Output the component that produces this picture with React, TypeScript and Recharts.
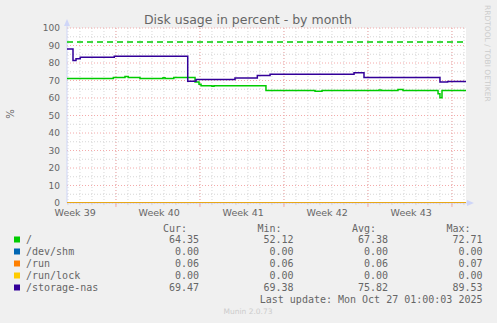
import React from "react";
import {
  ComposedChart,
  Line,
  XAxis,
  YAxis,
  ReferenceLine,
  ReferenceArea,
  ReferenceDot,
} from "recharts";

// x values are days counted from the left edge of the plot
const weekLabels = ["Week 39", "Week 40", "Week 41", "Week 42", "Week 43"];
const weekLabelDays = [0.68, 7.68, 14.68, 21.68, 28.68];
const weekStartDays = [4.08, 11.08, 18.08, 25.08, 32.08];
const yTicks = [0, 10, 20, 30, 40, 50, 60, 70, 80, 90, 100];
const yMinorTicks = [5, 15, 25, 35, 45, 55, 65, 75, 85, 95];
const warningLevel = 92;
const xEnd = 33.25;

// "/"
const rootDays = [0, 3.86, 4.83, 5.1, 6.08, 8.0, 8.17, 8.9, 10.67, 11.0, 11.17, 12.08, 12.25, 16.58, 20.67, 21.25, 26.0, 26.17, 27.58, 28.0, 30.92, 31.08, 31.25, 33.25];
const rootValues = [71.2, 71.7, 72.3, 71.7, 71.2, 71.6, 71.2, 71.7, 69.2, 67.8, 67.0, 66.7, 67.0, 64.3, 63.8, 64.3, 64.6, 64.3, 64.9, 64.3, 62.5, 60.1, 64.3, 64.3];

// "/storage-nas"
const nasDays = [0, 0.5, 0.75, 1.1, 3.94, 10.06, 10.75, 14.0, 15.86, 16.92, 23.92, 24.75, 31.08, 31.72, 33.25];
const nasValues = [88.0, 81.5, 82.4, 83.3, 83.9, 69.6, 70.6, 71.4, 72.9, 73.6, 74.4, 71.7, 69.1, 69.5, 69.5];

const flatDays = [0, 33.25];
const shmValues = [0, 0];
const runValues = [0.06, 0.06];
const lockValues = [0, 0];

const legendNames = ["/", "/dev/shm", "/run", "/run/lock", "/storage-nas"];
const legendColors = ["#00CC00", "#0066B3", "#FF8000", "#FFCC00", "#330099"];
const curValues = ["64.35", "0.00", "0.06", "0.00", "69.47"];
const minValues = ["52.12", "0.00", "0.06", "0.00", "69.38"];
const avgValues = ["67.38", "0.00", "0.06", "0.00", "75.82"];
const maxValues = ["72.71", "0.00", "0.07", "0.00", "89.53"];
const legendHeaders = ["Cur:", "Min:", "Avg:", "Max:"];

const toPoints = (days: number[], values: number[]) =>
  days.map((d, i) => ({ d, v: values[i] }));

const dayGrid = Array.from({ length: 34 }, (_, i) => 0.08 + i);

const fontColor = "#666666";
const axisColor = "#CFD6F8";
const gridColor = "#D6D6D6";
const mgridColor = "#F4AAAA";

export default function App() {
  const series = [
    { pts: toPoints(rootDays, rootValues), color: legendColors[0] },
    { pts: toPoints(flatDays, shmValues), color: legendColors[1] },
    { pts: toPoints(flatDays, runValues), color: legendColors[2] },
    { pts: toPoints(flatDays, lockValues), color: legendColors[3] },
    { pts: toPoints(nasDays, nasValues), color: legendColors[4] },
  ];
  const valueCols = [curValues, minValues, avgValues, maxValues];
  const colRight = [199, 293.5, 388, 482.5];

  return (
    <div style={{ position: "absolute", left: 0, top: 0, width: 497, height: 323, background: "#F0F0F0", overflow: "hidden" }}>
      <ComposedChart width={497} height={323} margin={{ top: 28, right: 31, left: 0, bottom: 100 }}>
        <XAxis
          dataKey="d"
          type="number"
          domain={[0, xEnd]}
          ticks={weekLabelDays}
          tickFormatter={(v: number) => weekLabels[weekLabelDays.indexOf(v)] ?? ""}
          axisLine={false}
          tickLine={false}
          tickSize={0}
          tickMargin={6}
          height={20}
          allowDataOverflow
          interval={0}
          tick={{ fill: fontColor, fontSize: 9.5, fontFamily: "DejaVu Sans" }}
        />
        <YAxis
          type="number"
          domain={[0, 100]}
          ticks={yTicks}
          width={67}
          axisLine={false}
          tickLine={false}
          tickSize={0}
          tickMargin={7}
          allowDataOverflow
          interval={0}
          tick={{ fill: fontColor, fontSize: 9, fontFamily: "DejaVu Sans" }}
        />
        <ReferenceArea x1={0} x2={xEnd} y1={0} y2={100} fill="#FFFFFF" fillOpacity={1} stroke="none" ifOverflow="visible" />
        {yMinorTicks.map((y) => (
          <ReferenceLine key={"ym" + y} y={y} stroke={gridColor} strokeDasharray="1 2" />
        ))}
        {dayGrid.map((d) => (
          <ReferenceLine key={"xm" + d} x={d} stroke={gridColor} strokeDasharray="1 2" />
        ))}
        {dayGrid.map((d) => (
          <ReferenceLine key={"xt" + d} segment={[{ x: d, y: 0 }, { x: d, y: -1.2 }]} stroke={gridColor} ifOverflow="visible" />
        ))}
        {yTicks.map((y) => (
          <ReferenceLine key={"yM" + y} y={y} stroke={mgridColor} strokeDasharray="1 2" />
        ))}
        {weekStartDays.map((d) => (
          <ReferenceLine key={"xM" + d} x={d} stroke={mgridColor} strokeDasharray="1 2" />
        ))}
        {weekStartDays.map((d) => (
          <ReferenceLine key={"xMt" + d} segment={[{ x: d, y: 0 }, { x: d, y: -2.3 }]} stroke={mgridColor} ifOverflow="visible" />
        ))}
        <ReferenceLine segment={[{ x: 0, y: 0 }, { x: 0, y: 103 }]} stroke={axisColor} ifOverflow="visible" />
        <ReferenceLine segment={[{ x: 0, y: 0 }, { x: 33.6, y: 0 }]} stroke={axisColor} ifOverflow="visible" />
        <ReferenceDot
          x={0}
          y={104}
          ifOverflow="visible"
          shape={(p: any) => <path d={`M${p.cx - 3},${p.cy + 5} L${p.cx},${p.cy - 2} L${p.cx + 3},${p.cy + 5} Z`} fill={axisColor} />}
        />
        <ReferenceDot
          x={33.75}
          y={0}
          ifOverflow="visible"
          shape={(p: any) => <path d={`M${p.cx - 5},${p.cy - 3} L${p.cx + 2},${p.cy} L${p.cx - 5},${p.cy + 3} Z`} fill={axisColor} />}
        />
        <ReferenceLine y={warningLevel} stroke="#00CC00" strokeWidth={1.6} strokeDasharray="6 4" />
        {series.map((s, i) => (
          <Line
            key={i}
            data={s.pts}
            dataKey="v"
            type="stepAfter"
            stroke={s.color}
            strokeWidth={1.5}
            strokeOpacity={i === 3 ? 0.7 : 1}
            dot={false}
            activeDot={false}
            isAnimationActive={false}
          />
        ))}
      </ComposedChart>

      <svg width={497} height={323} style={{ position: "absolute", left: 0, top: 0, pointerEvents: "none" }}>
        <text x={248} y={24} textAnchor="middle" fill={fontColor} fontSize={12.5} fontFamily="DejaVu Sans">
          Disk usage in percent - by month
        </text>
        <text transform="translate(14,114) rotate(-90)" textAnchor="middle" fill={fontColor} fontSize={10} fontFamily="DejaVu Sans">
          %
        </text>
        <text transform="translate(485,5) rotate(90)" fill="#CCCCCC" fontSize={7.5} fontFamily="DejaVu Sans">
          RRDTOOL / TOBI OETIKER
        </text>
        <g fontFamily="DejaVu Sans Mono" fontSize={10} fill={fontColor}>
          {legendHeaders.map((h, i) => (
            <text key={h} x={colRight[i] - 12} y={231.5} textAnchor="end">
              {h}
            </text>
          ))}
          {legendNames.map((name, r) => {
            const base = 243 + r * 12;
            return (
              <g key={name}>
                <rect x={14} y={base - 6.5} width={6} height={6} fill={legendColors[r]} />
                <text x={26} y={base}>{name}</text>
                {valueCols.map((col, c) => (
                  <text key={c} x={colRight[c]} y={base} textAnchor="end">
                    {col[r]}
                  </text>
                ))}
              </g>
            );
          })}
          <text x={482.5} y={303.3} textAnchor="end">
            Last update: Mon Oct 27 01:00:03 2025
          </text>
        </g>
        <text x={248} y={314} textAnchor="middle" fill="#CCCCCC" fontSize={7.5} fontFamily="DejaVu Sans">
          Munin 2.0.73
        </text>
      </svg>
    </div>
  );
}
